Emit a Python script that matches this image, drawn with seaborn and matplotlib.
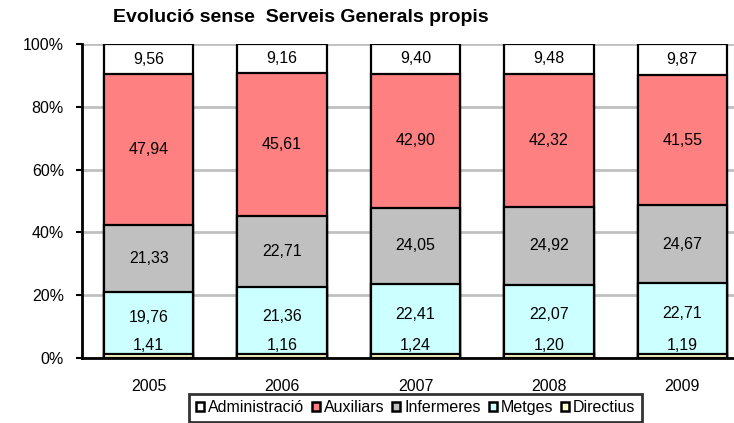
import numpy as np
import pandas as pd
import seaborn as sns
import matplotlib.pyplot as plt
from matplotlib.patches import Patch

years = ["2005", "2006", "2007", "2008", "2009"]
administracio = [9.56, 9.16, 9.40, 9.48, 9.87]
auxiliars = [47.94, 45.61, 42.90, 42.32, 41.55]
infermeres = [21.33, 22.71, 24.05, 24.92, 24.67]
metges = [19.76, 21.36, 22.41, 22.07, 22.71]
directius = [1.41, 1.16, 1.24, 1.20, 1.19]

colors = {
    "Administració": "#ffffff",
    "Auxiliars": "#ff8080",
    "Infermeres": "#c0c0c0",
    "Metges": "#ccffff",
    "Directius": "#ffffcc",
}

sns.set_style("white")
plt.rcParams["font.family"] = ["Liberation Sans", "DejaVu Sans"]
plt.rcParams["text.color"] = "black"
plt.rcParams["xtick.color"] = "black"
plt.rcParams["ytick.color"] = "black"

df = pd.DataFrame(
    {
        "year": years,
        "Administració": administracio,
        "Auxiliars": auxiliars,
        "Infermeres": infermeres,
        "Metges": metges,
        "Directius": directius,
    }
)

# stack from bottom to top, draw cumulative bars largest first
order = ["Directius", "Metges", "Infermeres", "Auxiliars", "Administració"]
cum = df[order].cumsum(axis=1)

fig = plt.figure(figsize=(7.34, 4.23), dpi=100)
ax = fig.add_axes([82 / 734, 65 / 423, 667 / 734, 314 / 423])

for name in reversed(order):
    sns.barplot(
        x=df["year"],
        y=cum[name],
        ax=ax,
        color=colors[name],
        saturation=1,
        width=0.67,
        edgecolor="black",
        linewidth=1.6,
        errorbar=None,
        zorder=3,
    )

# value labels
for i in range(len(years)):
    lower = 0.0
    for name in order:
        val = df[name].iloc[i]
        ymid = lower + val / 2
        if name == "Directius":
            ymid = 4.0
        elif name == "Metges":
            ymid += 1.5
        ax.text(i, ymid, f"{val:.2f}".replace(".", ","), ha="center",
                va="center", fontsize=11.5, color="black", zorder=5)
        lower += val

ax.set_xlim(-0.5, 4.5)
ax.set_ylim(0, 100)
ax.set_yticks(range(0, 101, 20))
ax.set_yticklabels([f"{v}%" for v in range(0, 101, 20)], fontsize=11.5)
ax.yaxis.grid(True, color="#c0c0c0", linewidth=2, zorder=0)
ax.set_axisbelow(True)
ax.set_xlabel("")
ax.set_ylabel("")

ax.set_xticks(range(len(years)))
ax.set_xticklabels(years, fontsize=11.5)
ax.set_xticks(np.arange(-0.5, 5, 1), minor=True)
ax.tick_params(axis="x", which="major", length=0, pad=15)
ax.tick_params(axis="x", which="minor", length=4, width=1.5, direction="out", color="black")
ax.tick_params(axis="y", length=4, width=1.5, direction="out", color="black", pad=9, left=True)

for s in ["top", "right"]:
    ax.spines[s].set_visible(False)
for s in ["left", "bottom"]:
    ax.spines[s].set_color("black")
    ax.spines[s].set_linewidth(2)
    ax.spines[s].set_zorder(4)

fig.text(113 / 734, 1 - 18 / 423, "Evolució sense  Serveis Generals propis",
         fontsize=14, fontweight="bold", ha="left", va="center")

names = ["Administració", "Auxiliars", "Infermeres", "Metges", "Directius"]
handles = [Patch(facecolor=colors[n], edgecolor="black", linewidth=1.8) for n in names]
leg = ax.legend(
    handles,
    names,
    loc="upper center",
    bbox_to_anchor=(0.5, -0.115),
    borderaxespad=0,
    ncol=5,
    fontsize=11.5,
    frameon=True,
    fancybox=False,
    handlelength=0.5,
    handleheight=0.5,
    handletextpad=0.25,
    columnspacing=0.5,
    borderpad=0.4,
)
leg.get_frame().set_edgecolor("black")
leg.get_frame().set_linewidth(2)

fig.savefig("out.png", dpi=100)
